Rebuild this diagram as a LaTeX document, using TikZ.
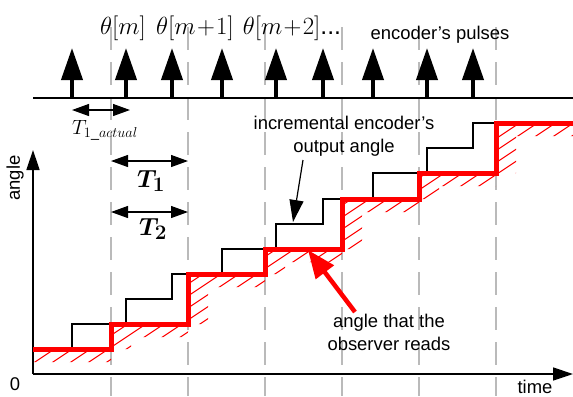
\documentclass[tikz,border=0pt]{standalone}
\usepackage{amsmath,amssymb,bm}
\usepackage{fontspec}
\setmainfont{Liberation Sans}
\usepackage{tikz}
\usetikzlibrary{positioning,calc,arrows.meta}

\tikzset{
  sampleline/.style={black!27, line width=2.5bp, dash pattern=on 23bp off 12bp},
  pulsearrow/.style={line width=4bp, -{Triangle[length=32bp,width=21bp]}},
  spanarrow/.style={line width=1.2bp, {Triangle[length=17bp,width=12bp]}-{Triangle[length=17bp,width=12bp]}},
  axisarrow/.style={line width=1.5bp, -{Triangle[length=20bp,width=13bp]}},
  mathlabel/.style={font=\fontsize{24.88}{25}\selectfont, inner sep=0pt},
}

\begin{document}
\begin{tikzpicture}[x=1bp, y=-1bp, font=\fontsize{18.5}{23}\selectfont]
  \useasboundingbox (0,0) rectangle (573,396);

  % Sampling instants
  \foreach \x in {111,188,265,342,419,496}
    \draw[sampleline] (\x,27) -- (\x,396);

  % Encoder pulses
  \draw[line width=1.2bp] (33,98) coordinate (base0) -- (573,98) coordinate (base1);
  \foreach \x [count=\i] in {72,126,172,222,276,323,373,427,473} {
    \coordinate (pb\i) at (\x,98);
    \coordinate (pt\i) at (\x,48);
    \draw[pulsearrow] (pb\i) -- (pt\i);
  }
  \node[mathlabel] (th0) at (123,28) {$\theta[m]$};
  \node[mathlabel] (th1) at (195,28) {$\theta[m\!+\!1]$};
  \node[mathlabel] (th2) at (292,28) {$\theta[m\!+\!2]$...};
  \node (pulses) at (440,35) {encoder's pulses};

  % Periods
  \coordinate (ta1) at (72,110);
  \coordinate (ta2) at (130,110);
  \draw[spanarrow] (ta1) -- (ta2);
  \node[font=\fontsize{20.74}{21}\selectfont] (tact) at (105,130) {$T_{1\_actual}$};
  \coordinate (t1a) at (111,161);
  \coordinate (t1b) at (188,161);
  \draw[spanarrow] (t1a) -- (t1b);
  \node[font=\fontsize{24.88}{25}\selectfont] (tone) at (151,181) {$\bm{T_1}$};
  \coordinate (t2a) at (111,212);
  \coordinate (t2b) at (188,212);
  \draw[spanarrow] (t2a) -- (t2b);
  \node[font=\fontsize{24.88}{25}\selectfont] (ttwo) at (153,229) {$\bm{T_2}$};

  % Axes
  \coordinate (origin) at (33,374);
  \coordinate (ytip) at (33,150);
  \coordinate (xtip) at (573,374);
  \draw[axisarrow] (origin) -- (ytip);
  \draw[axisarrow] (origin) -- (xtip);
  \node[rotate=90] (angle) at (15,178) {angle};
  \node (zero) at (15,384) {0};
  \node (time) at (535,387) {time};

  % Hatching under the observed angle
  \begin{scope}
    \clip (33,349) rectangle (111,362) (111,324) rectangle (188,337)
      (188,274) rectangle (265,287) (265,249) rectangle (342,262)
      (342,199) rectangle (419,212) (419,173) rectangle (496,186)
      (496,123) rectangle (573,136)
      (111,324) rectangle (131,349) (188,274) rectangle (208,324)
      (265,249) rectangle (285,274) (342,199) rectangle (362,249)
      (419,173) rectangle (439,199) (496,123) rectangle (516,173);
    \foreach \s in {-400,-382,...,600}
      \draw[red, line width=1bp] (\s,400) -- ++(600,-400);
  \end{scope}

  % Encoder output angle
  \draw[line width=1.2bp] (33,349) -- (72,349) -- (72,324) -- (126,324) -- (126,299)
    -- (172,299) -- (172,274) -- (222,274) -- (222,249) -- (276,249) -- (276,224)
    -- (323,224) -- (323,199) -- (373,199) -- (373,173) -- (427,173) -- (427,148)
    -- (473,148) -- (473,123) -- (573,123);

  % Observed angle
  \draw[red, line width=5bp] (33,349) -- (111,349) -- (111,324) -- (188,324) -- (188,274)
    -- (265,274) -- (265,249) -- (342,249) -- (342,199) -- (419,199) -- (419,173)
    -- (496,173) -- (496,123) -- (573,123);

  % Annotations
  \node[align=center] (inc) at (344,136) {incremental encoder's\\output angle};
  \coordinate (incTail) at (303,160);
  \coordinate (incTip) at (293,222);
  \draw[line width=1.2bp, -{Triangle[length=22bp,width=14bp]}] (incTail) -- (incTip);
  \node[align=center] (obs) at (389,332) {angle that the\\observer reads};
  \coordinate (obsTail) at (355,312);
  \coordinate (obsTip) at (308,250);
  \draw[red, line width=4.5bp, -{Triangle[length=28bp,width=22bp]}] (obsTail) -- (obsTip);
\end{tikzpicture}
\end{document}
